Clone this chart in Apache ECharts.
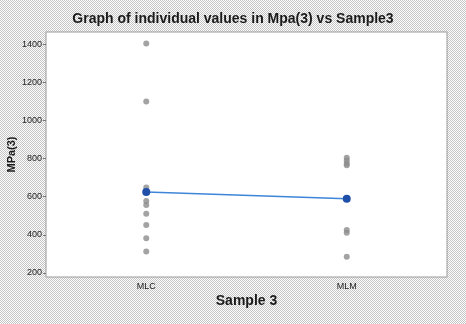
<!DOCTYPE html>
<html>
<head>
<meta charset="utf-8">
<script src="https://cdn.jsdelivr.net/npm/echarts@6/dist/echarts.min.js"></script>
<style>
  html, body { margin: 0; padding: 0; }
  #my_chart { width: 466px; height: 324px; }
</style>
</head>
<body>
<div id="my_chart"></div>
<script>
// categories and values
const categories = ["MLC", "MLM"];
const mlcValues = [1405, 1100, 648, 578, 556, 510, 452, 382, 312];
const mlmValues = [805, 790, 775, 765, 425, 410, 285];
const meanValues = [625, 590];
const yTicks = [200, 400, 600, 800, 1000, 1200, 1400];

// hatched grey background
const bg = document.createElement("canvas");
bg.width = 2;
bg.height = 2;
const bctx = bg.getContext("2d");
bctx.fillStyle = "#ffffff";
bctx.fillRect(0, 0, 2, 2);
bctx.fillStyle = "#c4c4c4";
bctx.fillRect(0, 0, 1, 1);
bctx.fillRect(1, 1, 1, 1);

let chart = echarts.init(document.getElementById("my_chart"));
let option = {
  backgroundColor: { image: bg, repeat: "repeat" },
  animation: false,
  title: {
    text: "Graph of individual values in Mpa(3) vs Sample3",
    left: "center",
    top: 7,
    textStyle: { fontFamily: "Liberation Sans", fontSize: 14, fontWeight: "bold", color: "#1a1a1a" },
  },
  grid: {
    left: 46,
    right: 19,
    top: 32,
    bottom: 47,
    outerBoundsMode: "none",
    show: true,
    backgroundColor: "#ffffff",
    borderColor: "#9a9a9a",
    borderWidth: 1,
  },
  xAxis: {
    type: "category",
    data: categories,
    name: "Sample 3",
    nameLocation: "middle",
    nameGap: 17,
    nameMoveOverlap: false,
    nameTextStyle: { fontFamily: "Liberation Sans", fontSize: 14, fontWeight: "bold", color: "#1a1a1a", verticalAlign: "top" },
    axisLine: { show: false },
    axisTick: { alignWithLabel: true, length: 3, lineStyle: { color: "#777" } },
    axisLabel: { fontFamily: "Liberation Sans", fontSize: 9, color: "#222", margin: 5 },
  },
  yAxis: {
    type: "value",
    min: 178,
    max: 1466,
    name: "MPa(3)",
    nameLocation: "middle",
    nameGap: 29,
    nameMoveOverlap: false,
    nameTextStyle: { fontFamily: "Liberation Sans", fontSize: 11, fontWeight: "bold", color: "#1a1a1a" },
    axisLine: { show: false },
    splitLine: { show: false },
    axisTick: { show: true, length: 3, customValues: yTicks, lineStyle: { color: "#777" } },
    axisLabel: {
      fontFamily: "Liberation Sans",
      fontSize: 9,
      color: "#222",
      margin: 4,
      customValues: yTicks,
      formatter: (v) => String(v),
    },
  },
  series: [
    {
      name: "MLC",
      type: "scatter",
      symbolSize: 6,
      itemStyle: { color: "#8c8c8c" },
      data: mlcValues.map((v) => [categories[0], v]),
    },
    {
      name: "MLM",
      type: "scatter",
      symbolSize: 6,
      itemStyle: { color: "#8c8c8c" },
      data: mlmValues.map((v) => [categories[1], v]),
    },
    {
      name: "Mean",
      type: "line",
      symbol: "circle",
      symbolSize: 8,
      itemStyle: { color: "#1f4fa8" },
      lineStyle: { color: "#3d85d8", width: 1.5 },
      data: meanValues,
      z: 3,
    },
  ],
};
chart.setOption(option);
</script>
</body>
</html>
